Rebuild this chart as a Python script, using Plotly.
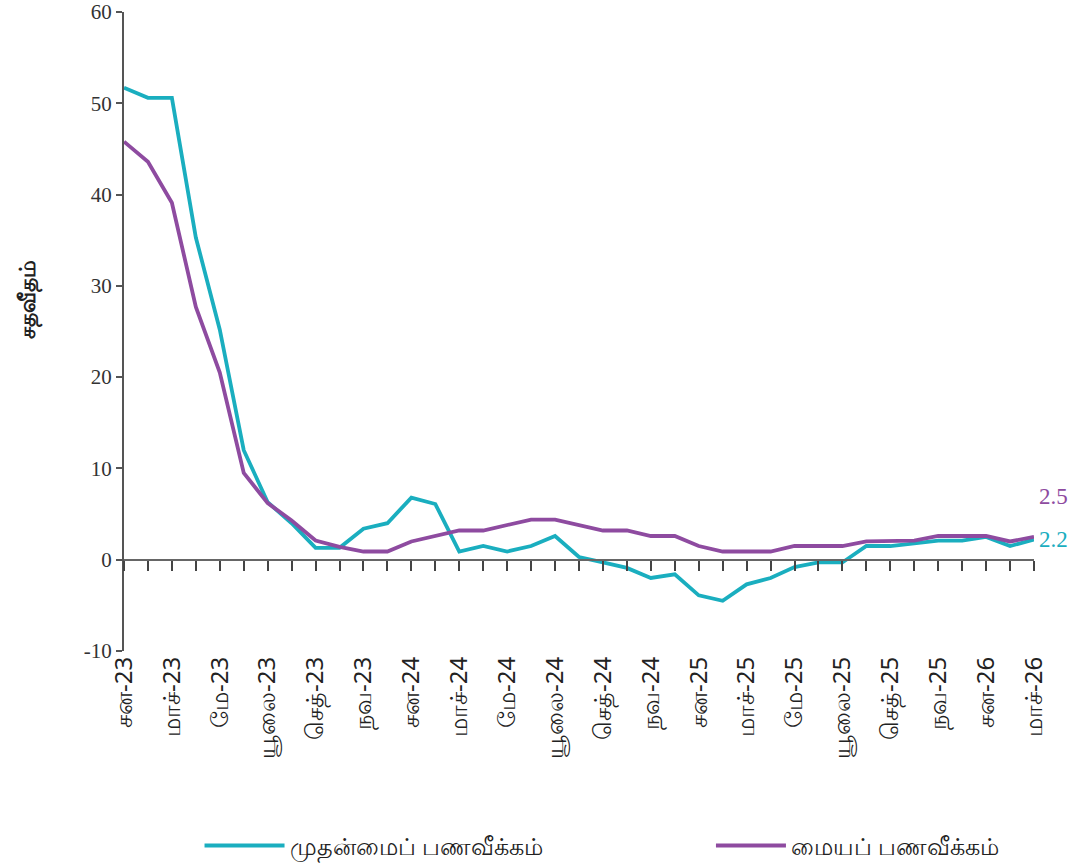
import plotly.graph_objects as go

months = ["சன-23", "பெப்-23", "மாச்-23", "ஏப்-23", "மே-23", "யூன்-23", "யூலை-23", "ஓக-23", "செத்-23", "ஒத்-23", "நவ-23", "டிச-23",
          "சன-24", "பெப்-24", "மாச்-24", "ஏப்-24", "மே-24", "யூன்-24", "யூலை-24", "ஓக-24", "செத்-24", "ஒத்-24", "நவ-24", "டிச-24",
          "சன-25", "பெப்-25", "மாச்-25", "ஏப்-25", "மே-25", "யூன்-25", "யூலை-25", "ஓக-25", "செத்-25", "ஒத்-25", "நவ-25", "டிச-25",
          "சன-26", "பெப்-26", "மாச்-26"]

headline = [51.7, 50.6, 50.6, 35.3, 25.2, 12.0, 6.3, 4.0, 1.3, 1.3, 3.4, 4.0,
            6.8, 6.1, 0.9, 1.5, 0.9, 1.5, 2.6, 0.3, -0.3, -0.9, -2.0, -1.6,
            -3.9, -4.5, -2.7, -2.0, -0.8, -0.3, -0.3, 1.5, 1.5, 1.8, 2.1, 2.1,
            2.5, 1.5, 2.2]

core = [45.8, 43.6, 39.1, 27.7, 20.5, 9.5, 6.2, 4.3, 2.1, 1.4, 0.9, 0.9,
        2.0, 2.6, 3.2, 3.2, 3.8, 4.4, 4.4, 3.8, 3.2, 3.2, 2.6, 2.6,
        1.5, 0.9, 0.9, 0.9, 1.5, 1.5, 1.5, 2.0, 2.0, 2.1, 2.6, 2.6,
        2.6, 2.0, 2.5]

series_names = ["முதன்மைப் பணவீக்கம்", "மையப் பணவீக்கம்"]
colors = ["#1AAEBF", "#8E4BA0"]
y_title = "சதவீதம்"
y_ticks = [-10, 0, 10, 20, 30, 40, 50, 60]
y_tick_text = ["-10", "0", "10", "20", "30", "40", "50", "60"]

x = list(range(len(months)))
tick_idx = x[::2]
tick_text = months[::2]

fig = go.Figure()
legend_ids = ["legend", "legend2"]
for name, vals, c, lg in zip(series_names, [headline, core], colors, legend_ids):
    fig.add_trace(go.Scatter(x=x, y=vals, mode="lines", name=name, legend=lg,
                             line=dict(color=c, width=3.8)))

# axis at zero with monthly tick marks
fig.add_trace(go.Scatter(x=x, y=[None]*len(x), xaxis="x2", showlegend=False, hoverinfo="skip"))

for vals, c, yshift in [(core, colors[1], 40), (headline, colors[0], 0)]:
    fig.add_annotation(x=x[-1], y=vals[-1], text=f"{vals[-1]}", showarrow=False,
                       xanchor="left", xshift=3, yshift=yshift,
                       font=dict(family="Liberation Serif", size=23, color=c))

fig.add_annotation(xref="paper", yref="paper", x=-0.107, y=0.55, text=y_title,
                   textangle=-90, showarrow=False, xanchor="center", yanchor="middle",
                   font=dict(family="Noto Sans", size=22, color="#222", weight="bold"))

legend_common = dict(orientation="h", yanchor="middle", y=-0.305, xanchor="left",
                     font=dict(family="Noto Sans", size=24, color="#222"),
                     bgcolor="rgba(0,0,0,0)")

fig.update_layout(
    width=1076, height=864,
    margin=dict(l=124, r=42, t=12, b=213, autoexpand=False),
    paper_bgcolor="white", plot_bgcolor="white",
    showlegend=True,
    legend=dict(x=0.083, itemwidth=80, **legend_common),
    legend2=dict(x=0.645, itemwidth=70, **legend_common),
    xaxis=dict(range=[0, 38], tickmode="array", tickvals=tick_idx, ticktext=tick_text,
               tickangle=-90, showline=False, showgrid=False, zeroline=False, automargin=False,
               ticks="", tickfont=dict(family="Noto Sans", size=24, color="#222")),
    xaxis2=dict(range=[0, 38], overlaying="x", anchor="free", position=1/7,
                showline=True, linecolor="#666", linewidth=2, ticks="outside",
                ticklen=10, tickwidth=1.5, tickcolor="#444", dtick=1, tick0=0,
                showticklabels=False, showgrid=False, zeroline=False),
    yaxis=dict(range=[-10, 60], tickmode="array", tickvals=y_ticks, ticktext=y_tick_text,
               showline=True, linecolor="#555", linewidth=2,
               ticks="outside", ticklen=6, tickwidth=1.5, tickcolor="#555",
               showgrid=False, zeroline=False, automargin=False,
               tickfont=dict(family="Liberation Serif", size=21, color="#333")),
)

fig.write_html("out.html", config={"displayModeBar": False},
               post_script="document.body.style.margin='0px';document.body.style.overflow='hidden';")
